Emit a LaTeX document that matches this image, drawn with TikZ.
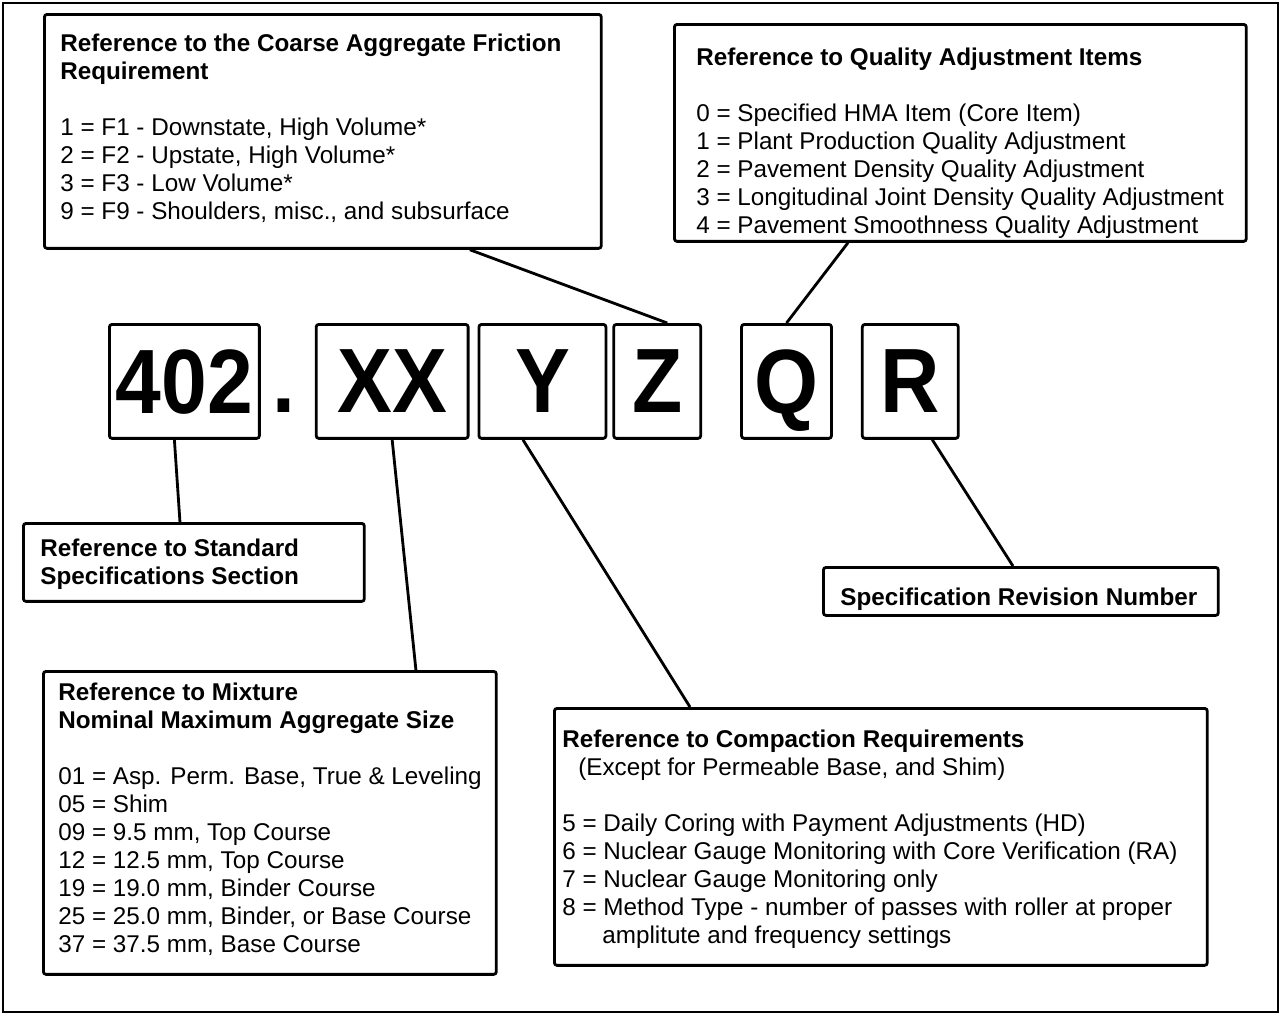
\documentclass[tikz,border=0pt]{standalone}
\usepackage{fontspec}
\setmainfont{Liberation Sans}
\newfontfamily\codefont{Liberation Sans}[FakeStretch=0.9]
\usetikzlibrary{positioning}
\tikzset{
        x=0.02cm, y=-0.02cm, % one unit is one pixel of the page
        link/.style={line width=1.6pt}, % lines from a code letter to its box
    }
\tikzset{
      code box/.style={
		draw, line width=1.6pt, rounded corners=1.5pt,
		minimum width={#1},
		minimum height={2.28cm},
		inner sep=0pt, text depth=0pt,
		font=\codefont\bfseries\fontsize{52}{52}\selectfont,
	  },
      info box/.style 2 args={
		draw, line width=1.6pt, rounded corners=1.5pt,
		minimum width={#1},
		minimum height={#2},
		inner sep=0pt, anchor=north west,
	  },
  		info text/.style={
    	anchor=north west, inner sep=0pt, align=left,
    	font=\fontsize{13.8}{15.9}\selectfont,
      }
  	}
\begin{document}
\begin{tikzpicture}
    \useasboundingbox (0,0) rectangle (1282,1015);
    \draw[line width=1.2pt] (3,3) rectangle (1278,1012);

    % the code
    \node [code box=3cm, anchor=north west] (n402) at (108,323) {402};
    \node [code box=3.04cm, right=1.08cm of n402] (xx) {XX};
    \node [code box=2.54cm, right=0.16cm of xx] (y) {Y};
    \node [code box=1.74cm, right=0.1cm of y] (z) {Z};
    \node [code box=1.8cm, right=0.76cm of z] (q) {Q};
    \node [code box=1.92cm, right=0.56cm of q] (r) {R};
    \node [font=\codefont\bfseries\fontsize{52}{52}\selectfont, inner sep=0pt, anchor=base] (dot) at (284,412) {.};

    % the boxes
    \node [info box={11.14cm}{4.68cm}] (coarse) at (43,13) {};
    \node [info text] (coarse text) at (60,34) {\textbf{Reference to the Coarse Aggregate Friction}\\
      \textbf{Requirement}\\[15.9pt]
      1 = F1 - Downstate, High Volume*\\
      2 = F2 - Upstate, High Volume*\\
      3 = F3 - Low Volume*\\
      9 = F9 - Shoulders, misc., and subsurface};

    \node [info box={11.44cm}{4.34cm}] (quality) at (673,23) {};
    \node [info text] (quality text) at (696,48) {\textbf{Reference to Quality Adjustment Items}\\[15.9pt]
      0 = Specified HMA Item (Core Item)\\
      1 = Plant Production Quality Adjustment\\
      2 = Pavement Density Quality Adjustment\\
      3 = Longitudinal Joint Density Quality Adjustment\\
      4 = Pavement Smoothness Quality Adjustment};

    \node [info box={6.82cm}{1.56cm}] (standard) at (22,522) {};
    \node [info text] (standard text) at (40,539) {\textbf{Reference to Standard}\\
      \textbf{Specifications Section}};

    \node [info box={7.9cm}{0.96cm}] (revision) at (822,566) {};
    \node [info text] (revision text) at (840,588) {\textbf{Specification Revision Number}};

    \node [info box={9.06cm}{6.06cm}] (mixture) at (42,670) {};
    \node [info text] (mixture text) at (58,683) {\textbf{Reference to Mixture}\\
      \textbf{Nominal Maximum Aggregate Size}\\[15.9pt]
      01 = Asp. Perm. Base, True \& Leveling\\
      05 = Shim\\
      09 = 9.5 mm, Top Course\\
      12 = 12.5 mm, Top Course\\
      19 = 19.0 mm, Binder Course\\
      25 = 25.0 mm, Binder, or Base Course\\
      37 = 37.5 mm, Base Course};

    \node [info box={13.06cm}{5.14cm}] (compaction) at (553,707) {};
    \node [info text] (compaction text) at (562,730) {\textbf{Reference to Compaction Requirements}\\
      \hspace*{0.32cm}(Except for Permeable Base, and Shim)\\[15.9pt]
      5 = Daily Coring with Payment Adjustments (HD)\\
      6 = Nuclear Gauge Monitoring with Core Verification (RA)\\
      7 = Nuclear Gauge Monitoring only\\
      8 = Method Type - number of passes with roller at proper\\
      \hspace*{0.8cm}amplitute and frequency settings};

    % the links
    \draw [link] ([xshift=8.54cm]coarse.south west) -- ([xshift=0.2cm]z.north);
    \draw [link] ([xshift=3.5cm]quality.south west) -- (q.north);
    \draw [link] ([xshift=-0.2cm]n402.south) -- ([xshift=3.16cm]standard.north west);
    \draw [link] (xx.south) -- ([xshift=7.48cm]mixture.north west);
    \draw [link] ([xshift=-0.39cm]y.south) -- ([xshift=2.74cm]compaction.north west);
    \draw [link] ([xshift=0.44cm]r.south) -- ([xshift=3.82cm]revision.north west);
  \end{tikzpicture}
\end{document}
